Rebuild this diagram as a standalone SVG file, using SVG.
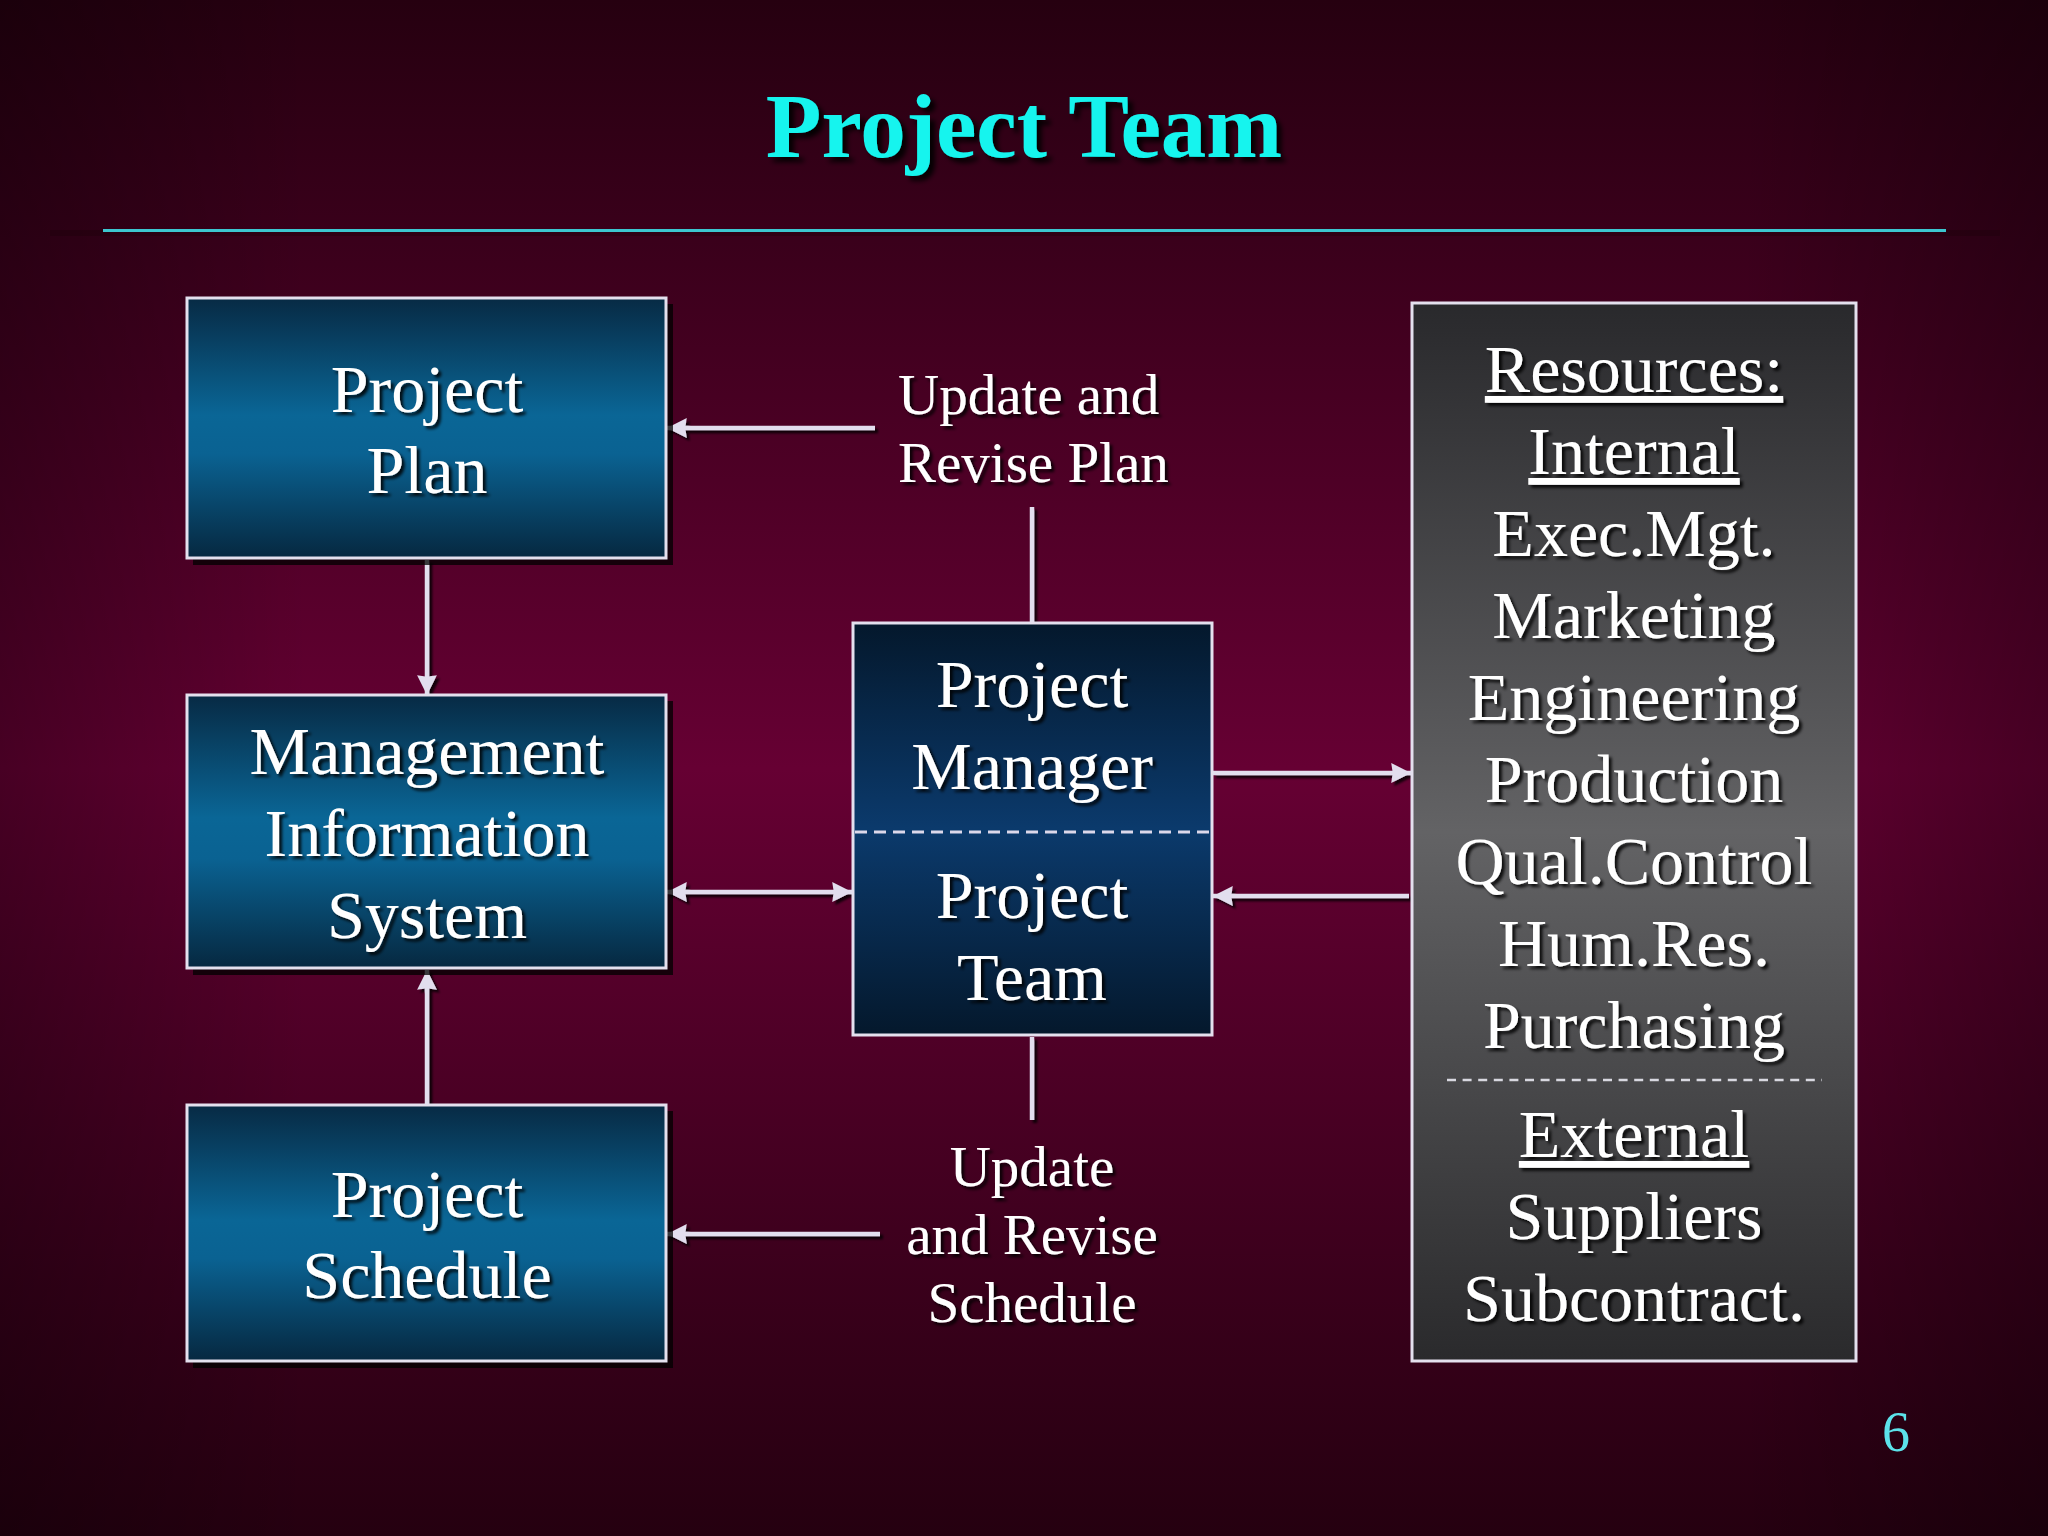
<svg xmlns="http://www.w3.org/2000/svg" width="2048" height="1536" viewBox="0 0 2048 1536">
<defs>
  <linearGradient id="bgV" x1="0" y1="0" x2="0" y2="1">
    <stop offset="0" stop-color="#260010"/>
    <stop offset="0.5" stop-color="#660033"/>
    <stop offset="1" stop-color="#250010"/>
  </linearGradient>
  <linearGradient id="bgH" x1="0" y1="0" x2="1" y2="0">
    <stop offset="0" stop-color="#000" stop-opacity="0.3"/>
    <stop offset="0.15" stop-color="#000" stop-opacity="0"/>
    <stop offset="0.85" stop-color="#000" stop-opacity="0"/>
    <stop offset="1" stop-color="#000" stop-opacity="0.3"/>
  </linearGradient>
  <linearGradient id="blueG" x1="0" y1="0" x2="0" y2="1">
    <stop offset="0" stop-color="#072a44"/>
    <stop offset="0.45" stop-color="#0a6696"/>
    <stop offset="0.6" stop-color="#0a6292"/>
    <stop offset="1" stop-color="#062840"/>
  </linearGradient>
  <linearGradient id="navyG" x1="0" y1="0" x2="0" y2="1">
    <stop offset="0" stop-color="#04182c"/>
    <stop offset="0.5" stop-color="#0b3a6c"/>
    <stop offset="1" stop-color="#04182c"/>
  </linearGradient>
  <linearGradient id="grayG" x1="0" y1="0" x2="0" y2="1">
    <stop offset="0" stop-color="#29292c"/>
    <stop offset="0.5" stop-color="#636365"/>
    <stop offset="1" stop-color="#2a2a2c"/>
  </linearGradient>
  <filter id="ts" x="-10%" y="-20%" width="130%" height="150%">
    <feDropShadow dx="3" dy="3" stdDeviation="1.5" flood-color="#000" flood-opacity="0.85"/>
  </filter>
  <filter id="cs" x="0" y="0" width="2048" height="1536" filterUnits="userSpaceOnUse">
    <feDropShadow dx="3" dy="3" stdDeviation="1" flood-color="#000" flood-opacity="0.8"/>
  </filter>
  <filter id="tts" x="-10%" y="-20%" width="130%" height="160%">
    <feDropShadow dx="5" dy="5" stdDeviation="2.5" flood-color="#000" flood-opacity="0.9"/>
  </filter>
  <marker id="arr" viewBox="0 0 10 10" refX="10" refY="5" markerWidth="5" markerHeight="4.4" markerUnits="strokeWidth" orient="auto-start-reverse">
    <path d="M0,0 L10,5 L0,10 L0.8,5 z" fill="#e2deee"/>
  </marker>
</defs>
<style>
  .box { stroke: #e4e0ee; stroke-width: 3; }
  .shadow { fill: #000; opacity: 0.75; }
  .bt { font-family: "Liberation Serif", "Times New Roman", serif; font-size: 68px; fill: #ffffff; text-anchor: middle; filter: url(#ts); }
  .lt { font-family: "Liberation Serif", "Times New Roman", serif; font-size: 57px; fill: #ffffff; filter: url(#ts); }
  .conn { stroke: #e2deee; stroke-width: 4.5; fill: none; }
  .u { text-decoration: underline; }
</style>

<rect x="0" y="0" width="2048" height="1536" fill="url(#bgV)"/>
<rect x="0" y="0" width="2048" height="1536" fill="url(#bgH)"/>

<g id="title">
  <text x="1024" y="157" font-family="'Liberation Serif', 'Times New Roman', serif" font-size="91" font-weight="bold" fill="#14f4ee" text-anchor="middle" filter="url(#tts)">Project Team</text>
  <line x1="50" y1="233" x2="2000" y2="233" stroke="#1a0008" stroke-opacity="0.35" stroke-width="6"/>
  <line x1="103" y1="230.5" x2="1946" y2="230.5" stroke="#3cc6cf" stroke-width="3"/>
</g>

<g id="connectors" filter="url(#cs)">
  <line class="conn" x1="875" y1="428" x2="667" y2="428" marker-end="url(#arr)"/>
  <line class="conn" x1="427" y1="560" x2="427" y2="695" marker-end="url(#arr)"/>
  <line class="conn" x1="1032" y1="507" x2="1032" y2="622"/>
  <line class="conn" x1="667" y1="892" x2="852" y2="892" marker-start="url(#arr)" marker-end="url(#arr)"/>
  <line class="conn" x1="427" y1="1104" x2="427" y2="970" marker-end="url(#arr)"/>
  <line class="conn" x1="1032" y1="1037" x2="1032" y2="1120"/>
  <line class="conn" x1="880" y1="1234" x2="667" y2="1234" marker-end="url(#arr)"/>
  <line class="conn" x1="1213" y1="773" x2="1411" y2="773" marker-end="url(#arr)"/>
  <line class="conn" x1="1409" y1="896" x2="1213" y2="896" marker-end="url(#arr)"/>
</g>

<g id="node-project-plan">
  <rect class="shadow" x="193" y="304" width="480" height="261"/>
  <rect class="box" x="187" y="298" width="479" height="260" fill="url(#blueG)"/>
  <text class="bt" x="427" y="412">Project</text>
  <text class="bt" x="427" y="493">Plan</text>
</g>

<g id="node-mis">
  <rect class="shadow" x="193" y="701" width="480" height="274"/>
  <rect class="box" x="187" y="695" width="479" height="273" fill="url(#blueG)"/>
  <text class="bt" x="427" y="774">Management</text>
  <text class="bt" x="427" y="856">Information</text>
  <text class="bt" x="427" y="938">System</text>
</g>

<g id="node-project-schedule">
  <rect class="shadow" x="193" y="1111" width="480" height="257"/>
  <rect class="box" x="187" y="1105" width="479" height="256" fill="url(#blueG)"/>
  <text class="bt" x="427" y="1217">Project</text>
  <text class="bt" x="427" y="1298">Schedule</text>
</g>

<g id="node-pm-team">
  <rect class="box" x="853" y="623" width="359" height="412" fill="url(#navyG)"/>
  <line x1="855" y1="832" x2="1210" y2="832" stroke="#dcd8ea" stroke-width="3" stroke-dasharray="12 7"/>
  <text class="bt" x="1032" y="707">Project</text>
  <text class="bt" x="1032" y="789">Manager</text>
  <text class="bt" x="1032" y="918">Project</text>
  <text class="bt" x="1032" y="1000">Team</text>
</g>

<g id="label-update-plan">
  <text class="lt" x="898" y="414">Update and</text>
  <text class="lt" x="898" y="482">Revise Plan</text>
</g>

<g id="label-update-schedule">
  <text class="lt" x="1032" y="1186" text-anchor="middle">Update</text>
  <text class="lt" x="1032" y="1254" text-anchor="middle">and Revise</text>
  <text class="lt" x="1032" y="1322" text-anchor="middle">Schedule</text>
</g>

<g id="node-resources">
  <rect class="box" x="1412" y="303" width="444" height="1058" fill="url(#grayG)"/>
  <text class="bt u" x="1634" y="392">Resources:</text>
  <text class="bt u" x="1634" y="474">Internal</text>
  <text class="bt" x="1634" y="556">Exec.Mgt.</text>
  <text class="bt" x="1634" y="638">Marketing</text>
  <text class="bt" x="1634" y="720">Engineering</text>
  <text class="bt" x="1634" y="802">Production</text>
  <text class="bt" x="1634" y="884">Qual.Control</text>
  <text class="bt" x="1634" y="966">Hum.Res.</text>
  <text class="bt" x="1634" y="1048">Purchasing</text>
  <line x1="1447" y1="1080" x2="1822" y2="1080" stroke="#d8d8e0" stroke-width="2.5" stroke-dasharray="9 6.6"/>
  <text class="bt u" x="1634" y="1157">External</text>
  <text class="bt" x="1634" y="1239">Suppliers</text>
  <text class="bt" x="1634" y="1321">Subcontract.</text>
</g>

<g id="page-number">
  <text x="1896" y="1451" font-family="'Liberation Serif', 'Times New Roman', serif" font-size="56" fill="#5ce2ea" text-anchor="middle">6</text>
</g>
</svg>
